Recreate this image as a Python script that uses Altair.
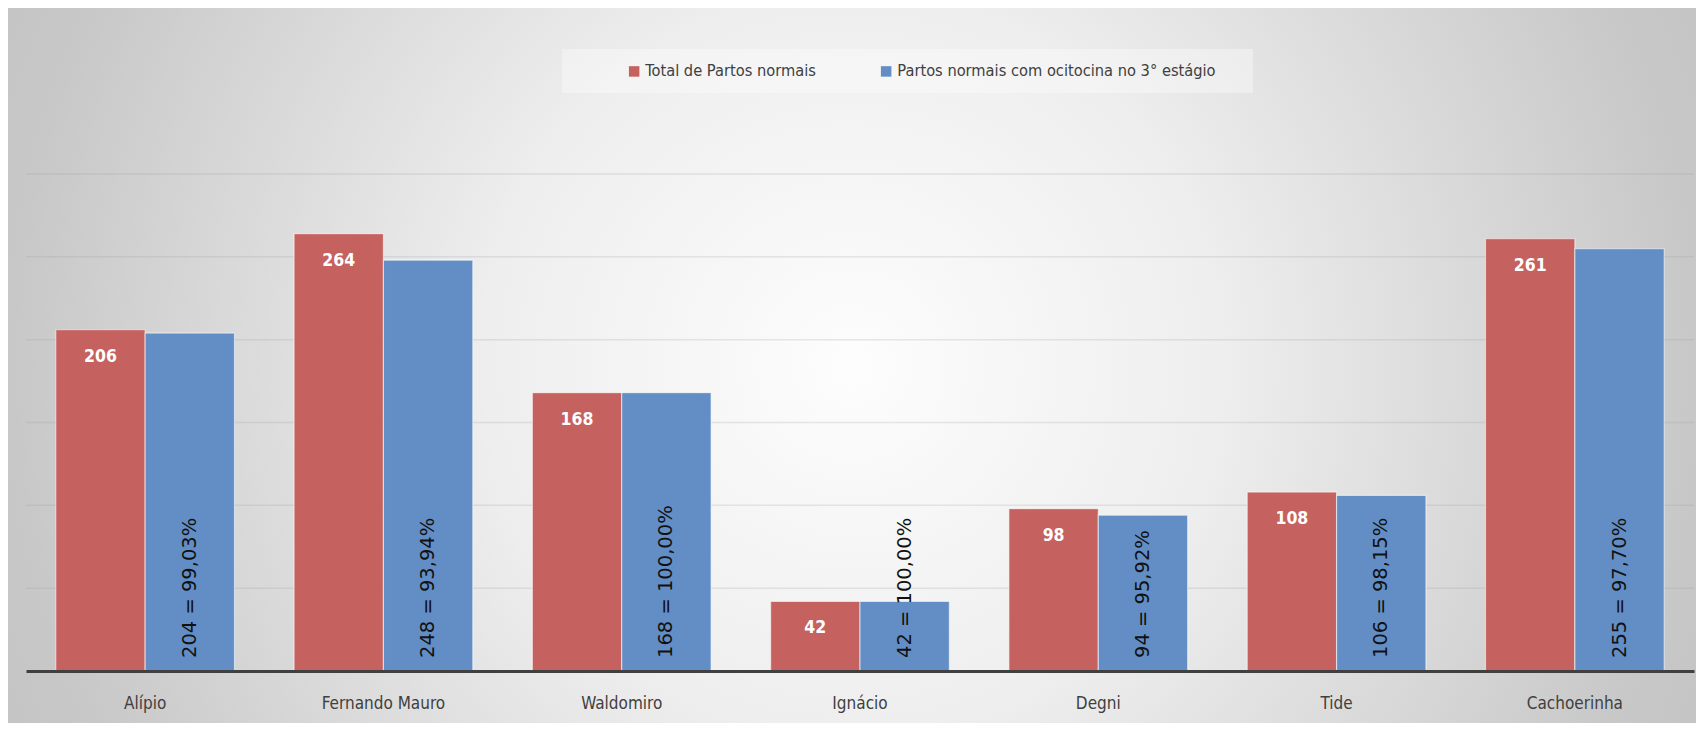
import altair as alt
import pandas as pd

categories = ["Alípio", "Fernando Mauro", "Waldomiro", "Ignácio", "Degni", "Tide", "Cachoerinha"]
total_normais = [206, 264, 168, 42, 98, 108, 261]
com_ocitocina = [204, 248, 168, 42, 94, 106, 255]
percentuais = ["99,03%", "93,94%", "100,00%", "100,00%", "95,92%", "98,15%", "97,70%"]
series_names = ["Total de Partos normais", "Partos normais com ocitocina no 3° estágio"]
series_colors = ["#C5615E", "#628EC5"]
grid_values = [50, 100, 150, 200, 250, 300]

rows = []
for c, t, o, p in zip(categories, total_normais, com_ocitocina, percentuais):
    rows.append({"cat": c, "serie": series_names[0], "valor": t, "rotulo": str(t), "zero": 0})
    rows.append({"cat": c, "serie": series_names[1], "valor": o, "rotulo": f"{o} = {p}", "zero": 0})
df = pd.DataFrame(rows)

W, H = 1668, 497
PL, PT, PR, PB = 18, 166, 2, 52

narrow = "Liberation Sans Narrow, DejaVu Sans Condensed, sans-serif"

x_enc = alt.X("cat:N", sort=categories,
              scale=alt.Scale(paddingInner=0.25, paddingOuter=0.125),
              axis=alt.Axis(title=None, labelAngle=0, ticks=False, domain=True,
                            domainColor="#404040", domainWidth=3, labelFontSize=17,
                            labelFont=narrow, labelColor="#404040", labelPadding=24,
                            zindex=1, grid=False))
xoff = alt.XOffset("serie:N", sort=series_names, scale=alt.Scale(domain=series_names, paddingInner=0))
y_scale = alt.Scale(domain=[0, 300], nice=False)

bg = alt.Chart(pd.DataFrame({"k": [0]})).mark_rect(
    color={"gradient": "radial", "x1": 0.5, "y1": 0.5, "r1": 0, "x2": 0.5, "y2": 0.5, "r2": 0.62,
           "stops": [{"offset": 0, "color": "#fdfdfd"},
                     {"offset": 0.35, "color": "#eeeeee"},
                     {"offset": 0.8, "color": "#c8c8c8"},
                     {"offset": 1, "color": "#bfbfbf"}]}
).encode(x=alt.value(-PL), x2=alt.value(W + PR), y=alt.value(-PT), y2=alt.value(H + PB))

legend_box = alt.Chart(pd.DataFrame({"k": [0]})).mark_rect(color="#ffffff", opacity=0.35).encode(
    x=alt.value(536), x2=alt.value(1227), y=alt.value(-125), y2=alt.value(-81))

grid = alt.Chart(pd.DataFrame({"g": grid_values})).mark_rule(color="#9a9a9a", opacity=0.22, strokeWidth=1.5).encode(
    y=alt.Y("g:Q", scale=y_scale, axis=None))

bars = alt.Chart(df).mark_bar(stroke="#ffffff", strokeOpacity=0.55, strokeWidth=1.2).encode(
    x=x_enc,
    xOffset=xoff,
    y=alt.Y("valor:Q", scale=y_scale, axis=None),
    color=alt.Color("serie:N", sort=series_names,
                    scale=alt.Scale(domain=series_names, range=series_colors),
                    legend=alt.Legend(title=None, orient="none", legendX=600, legendY=-111,
                                      direction="horizontal", symbolType="square", symbolSize=110,
                                      symbolStrokeWidth=0, labelFont=narrow, labelFontSize=16.3,
                                      labelColor="#404040", labelOffset=3, columnPadding=62,
                                      labelLimit=0, padding=0)),
)

red_labels = alt.Chart(df[df["serie"] == series_names[0]]).mark_text(
    color="white", fontWeight="bold", font=narrow, fontSize=17.5, baseline="middle", dy=27
).encode(x=alt.X("cat:N", sort=categories), xOffset=xoff, y=alt.Y("valor:Q", scale=y_scale), text="rotulo:N")

blue_labels = alt.Chart(df[df["serie"] == series_names[1]]).mark_text(
    color="#111111", font="DejaVu Sans", fontSize=19.5, angle=270, align="left", baseline="middle", dx=13
).encode(x=alt.X("cat:N", sort=categories), xOffset=xoff, y=alt.Y("zero:Q", scale=y_scale), text="rotulo:N")

chart = alt.layer(bg, legend_box, grid, bars, red_labels, blue_labels).properties(
    width=W, height=H,
    autosize=alt.AutoSizeParams(type="none"),
    padding={"left": PL, "top": PT, "right": PR, "bottom": PB},
    background="#ffffff",
).configure_view(strokeWidth=0)

chart.save("out.html", embed_options={"renderer": "svg", "actions": False})
